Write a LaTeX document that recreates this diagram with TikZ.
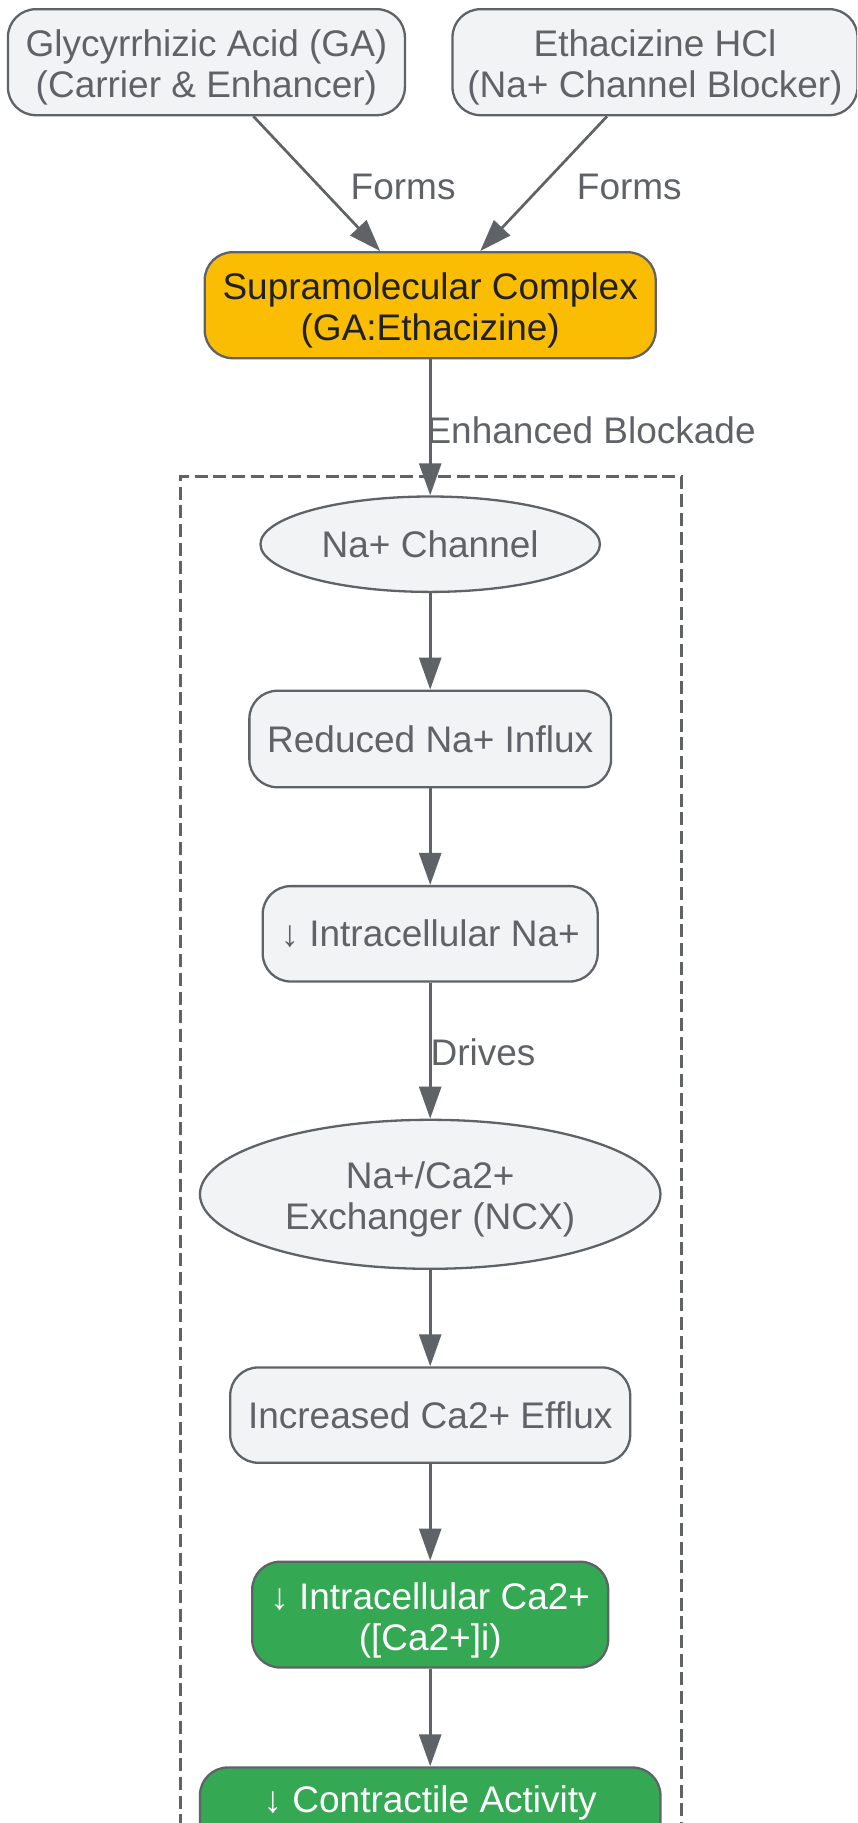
\documentclass[tikz,border=0pt]{standalone}
\usepackage{fontspec}
\setmainfont{Liberation Sans}
\usetikzlibrary{arrows.meta,shapes.geometric}
\definecolor{gfill}{HTML}{F1F3F4}
\definecolor{gline}{HTML}{5F6368}
\definecolor{amber}{HTML}{FBBC04}
\definecolor{ggreen}{HTML}{34A853}
\definecolor{dtext}{HTML}{202124}
\begin{document}
\begin{tikzpicture}[x=1pt,y=-1pt,
  every node/.style={font=\fontsize{37}{41}\selectfont, text=gline},
  box/.style={draw=gline, line width=2.3pt, fill=gfill, rounded corners=28pt, align=center, inner sep=0pt},
  oval/.style={draw=gline, line width=2.3pt, fill=gfill, ellipse, align=center, inner sep=0pt},
  twoline/.style={text height=79pt},
  amberbox/.style={box, fill=amber, text=dtext},
  greenbox/.style={box, fill=ggreen, text=white},
  conn/.style={draw=gline, line width=2.7pt, -{Triangle[length=32pt,width=22pt]}},
  lbl/.style={inner sep=0pt, text=gline},
  cluster/.style={draw=gline, line width=2.7pt, dash pattern=on 13pt off 5.7pt, inner sep=0pt, anchor=north west}]
\useasboundingbox (0,0) rectangle (857,1823);
\clip (0,0) rectangle (857,1823);
\fill[white] (0,0) rectangle (857,1823);

\node[cluster, minimum width=501pt, minimum height=1400pt] (grp) at (179.3,475) {};

\node[box, twoline, minimum width=397pt, minimum height=106pt] (ga) at (206.4,62.2) {Glycyrrhizic Acid (GA)\\(Carrier \& Enhancer)};
\node[box, twoline, minimum width=405pt, minimum height=106pt] (eth) at (655,62.2) {Ethacizine HCl\\(Na+ Channel Blocker)};
\node[amberbox, twoline, minimum width=451pt, minimum height=106pt] (cx) at (430.2,305.2) {Supramolecular Complex\\(GA:Ethacizine)};

\node[oval, minimum width=339.5pt, minimum height=95.4pt] (nac) at (430.2,544.2) {Na+ Channel};
\node[box, minimum width=361.7pt, minimum height=96.5pt] (red) at (430.2,739) {Reduced Na+ Influx};
\node[box, minimum width=335pt, minimum height=95.4pt] (ina) at (430.2,933.8) {↓ Intracellular Na+};
\node[oval, twoline, minimum width=460.5pt, minimum height=149pt] (ncx) at (430.2,1194.3) {Na+/Ca2+\\Exchanger (NCX)};
\node[box, minimum width=400pt, minimum height=95.3pt] (eff) at (430.2,1415.1) {Increased Ca2+ Efflux};
\node[greenbox, twoline, minimum width=356pt, minimum height=105.8pt] (ica) at (430.2,1614.6) {↓ Intracellular Ca2+\\([Ca2+]i)};
\node[greenbox, twoline, minimum width=460.5pt, minimum height=106pt, anchor=north] (con) at (430.2,1766.3) {↓ Contractile Activity\\\strut};

\draw[conn] ([xshift=47pt]ga.south) -- node[lbl, pos=0.526, xshift=83pt] (f1) {Forms} ([xshift=-50pt]cx.north);
\draw[conn] ([xshift=-48pt]eth.south) -- node[lbl, pos=0.526, xshift=89pt] (f2) {Forms} ([xshift=50pt]cx.north);
\draw[conn] (cx.south) -- node[lbl, anchor=west, pos=0.52, xshift=-5pt] (eb) {Enhanced Blockade} (nac.north);
\draw[conn] (nac.south) -- (red.north);
\draw[conn] (red.south) -- (ina.north);
\draw[conn] (ina.south) -- node[lbl, anchor=west, pos=0.51, xshift=-1pt] (dr) {Drives} (ncx.north);
\draw[conn] (ncx.south) -- (eff.north);
\draw[conn] (eff.south) -- (ica.north);
\draw[conn] (ica.south) -- (con.north);
\end{tikzpicture}
\end{document}
